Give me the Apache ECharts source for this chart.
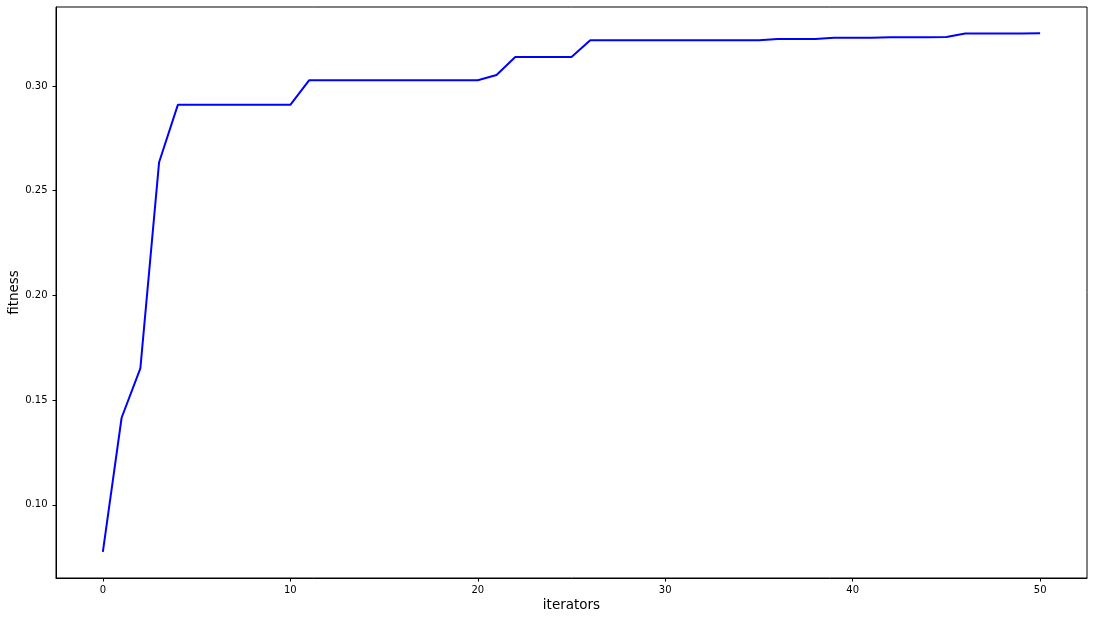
<!DOCTYPE html>
<html>
<head>
<meta charset="utf-8">
<script src="https://cdn.jsdelivr.net/npm/echarts@6/dist/echarts.min.js"></script>
<style>
html,body{margin:0;padding:0;background:#fff;}
#c{width:1094px;height:620px;}
</style>
</head>
<body>
<div id="c"></div>
<script>
const iterations = Array.from({length: 51}, (_, i) => i);
const fitness = [
  0.0776, 0.1416, 0.1652, 0.2636, 0.2910, 0.2910, 0.2910, 0.2910, 0.2910, 0.2910,
  0.2910, 0.3027, 0.3027, 0.3027, 0.3027, 0.3027, 0.3027, 0.3027, 0.3027, 0.3027,
  0.3027, 0.3052, 0.3138, 0.3138, 0.3138, 0.3138, 0.3218, 0.3218, 0.3218, 0.3218,
  0.3218, 0.3218, 0.3218, 0.3218, 0.3218, 0.3218, 0.3224, 0.3224, 0.3224, 0.3230,
  0.3230, 0.3230, 0.3233, 0.3233, 0.3233, 0.3234, 0.3250, 0.3250, 0.3250, 0.3250,
  0.3252
];
const xTicks = [0, 10, 20, 30, 40, 50];
const yTicks = [0.10, 0.15, 0.20, 0.25, 0.30];

const font = 'DejaVu Sans';
const chart = echarts.init(document.getElementById('c'), null, {renderer: 'canvas'});
chart.setOption({
  animation: false,
  backgroundColor: '#ffffff',
  grid: {left: 56, right: 7, top: 7, bottom: 42, show: true, borderColor: '#000', borderWidth: 1,
         containLabel: false, outerBoundsMode: 'none'},
  xAxis: {
    type: 'value', min: -2.5, max: 52.5,
    name: 'iterators', nameLocation: 'middle', nameGap: 20, nameMoveOverlap: false,
    nameTextStyle: {fontFamily: font, fontSize: 13.5, color: '#000'},
    axisLine: {show: true, onZero: false, lineStyle: {color: '#000', width: 1}},
    axisTick: {show: true, length: 3.5, inside: false, lineStyle: {color: '#000'}, customValues: xTicks},
    axisLabel: {fontFamily: font, fontSize: 10, color: '#000', margin: 7, customValues: xTicks, formatter: v => String(v)},
    splitLine: {show: false}
  },
  yAxis: {
    type: 'value', min: 0.0651, max: 0.3377,
    name: 'fitness', nameLocation: 'middle', nameGap: 35, nameMoveOverlap: false,
    nameTextStyle: {fontFamily: font, fontSize: 13.5, color: '#000'},
    axisLine: {show: true, onZero: false, lineStyle: {color: '#000', width: 1}},
    axisTick: {show: true, length: 3.5, inside: false, lineStyle: {color: '#000'}, customValues: yTicks},
    axisLabel: {fontFamily: font, fontSize: 10, color: '#000', margin: 8.5, customValues: yTicks, formatter: v => v.toFixed(2)},
    splitLine: {show: false}
  },
  series: [{
    type: 'line',
    data: iterations.map((x, i) => [x, fitness[i]]),
    showSymbol: false,
    lineStyle: {color: '#0000ff', width: 2},
    itemStyle: {color: '#0000ff'}
  }]
});
</script>
</body>
</html>
